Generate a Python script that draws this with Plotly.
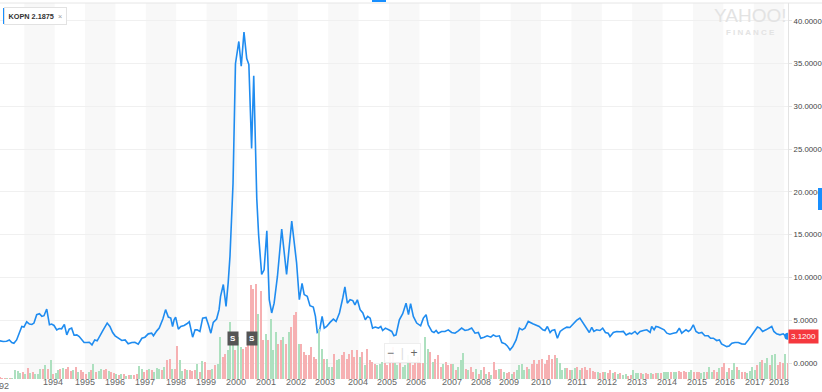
import plotly.graph_objects as go
import pandas as pd
from datetime import datetime

# ---------------- data ----------------
kopn_t = [
    1992.20, 1992.31, 1992.42, 1992.51, 1992.59, 1992.66, 1992.75, 1992.84, 1992.92, 1992.99,
    1993.08, 1993.17, 1993.25, 1993.32, 1993.41, 1993.50, 1993.58, 1993.65, 1993.74, 1993.83, 1993.90, 1993.98,
    1994.07, 1994.15, 1994.23, 1994.32, 1994.40, 1994.48, 1994.56, 1994.64, 1994.73, 1994.81, 1994.89, 1994.97,
    1995.06, 1995.14, 1995.23, 1995.32, 1995.40, 1995.49, 1995.60, 1995.73, 1995.82, 1995.91, 1995.99,
    1996.10, 1996.21, 1996.32, 1996.42, 1996.54, 1996.64, 1996.75, 1996.87, 1996.97,
    1997.08, 1997.19, 1997.25, 1997.36, 1997.44, 1997.56, 1997.65, 1997.74, 1997.82, 1997.88, 1997.93, 1997.98,
    1998.07, 1998.15, 1998.26, 1998.35, 1998.43, 1998.54, 1998.62, 1998.69, 1998.78, 1998.87, 1998.98,
    1999.06, 1999.14, 1999.22, 1999.33, 1999.41, 1999.46, 1999.55, 1999.64, 1999.71, 1999.77, 1999.87, 1999.95,
    2000.06, 2000.14, 2000.23, 2000.32, 2000.39, 2000.48, 2000.55, 2000.65, 2000.71, 2000.81, 2000.89, 2000.98,
    2001.06, 2001.14, 2001.22, 2001.33, 2001.47, 2001.63, 2001.80, 2001.96,
    2002.05, 2002.14, 2002.21, 2002.31, 2002.40, 2002.51, 2002.58, 2002.64, 2002.71, 2002.80, 2002.87, 2002.95,
    2003.06, 2003.17, 2003.26, 2003.37, 2003.48, 2003.55, 2003.63, 2003.72, 2003.81, 2003.88, 2003.96,
    2004.05, 2004.14, 2004.22, 2004.30, 2004.38, 2004.46, 2004.55, 2004.65, 2004.73, 2004.79, 2004.88, 2004.99,
    2005.09, 2005.16, 2005.23, 2005.34, 2005.45, 2005.56, 2005.64, 2005.71, 2005.80, 2005.91,
    2006.04, 2006.13, 2006.22, 2006.29, 2006.41, 2006.48, 2006.55, 2006.62, 2006.73, 2006.84, 2006.95,
    2007.06, 2007.17, 2007.28, 2007.39, 2007.50, 2007.61, 2007.72, 2007.83, 2007.94,
    2008.02, 2008.13, 2008.23, 2008.35, 2008.43, 2008.52, 2008.63, 2008.71, 2008.82, 2008.89, 2008.98,
    2009.07, 2009.18, 2009.29, 2009.38, 2009.47, 2009.58, 2009.73, 2009.84, 2009.94,
    2010.06, 2010.13, 2010.21, 2010.30, 2010.36, 2010.45, 2010.54, 2010.63, 2010.73, 2010.85, 2010.95,
    2011.06, 2011.17, 2011.28, 2011.39, 2011.50, 2011.59, 2011.67, 2011.74, 2011.83, 2011.94,
    2012.03, 2012.12, 2012.21, 2012.27, 2012.38, 2012.49, 2012.60, 2012.71, 2012.80, 2012.91, 2012.98,
    2013.09, 2013.17, 2013.26, 2013.37, 2013.48, 2013.59, 2013.64, 2013.72, 2013.78, 2013.86, 2013.97,
    2014.05, 2014.14, 2014.24, 2014.35, 2014.46, 2014.55, 2014.63, 2014.70, 2014.77, 2014.85, 2014.92,
    2015.01, 2015.10, 2015.19, 2015.29, 2015.39, 2015.50, 2015.58, 2015.67, 2015.78, 2015.87, 2015.94,
    2016.02, 2016.11, 2016.19, 2016.28, 2016.38, 2016.49, 2016.60, 2016.71, 2016.82, 2016.93,
    2017.04, 2017.12, 2017.20, 2017.29, 2017.40, 2017.51, 2017.59, 2017.66, 2017.75, 2017.86, 2017.97,
    2018.06, 2018.12,
]

kopn_close = [
    2.59, 2.51, 2.55, 2.70, 2.39, 2.31, 2.70, 3.49, 4.27, 4.20,
    4.82, 4.55, 4.51, 4.67, 5.65, 5.76, 5.45, 5.53, 6.31, 4.47, 4.55, 4.39,
    3.88, 4.04, 4.00, 4.51, 3.29, 3.96, 4.08, 3.25, 3.29, 3.10, 2.70, 2.39,
    2.39, 2.43, 2.12, 2.70, 2.59, 3.10, 3.88, 4.67, 4.27, 3.57, 3.18,
    2.90, 2.63, 2.70, 2.24, 2.39, 2.43, 2.20, 2.90, 3.02,
    3.41, 3.49, 3.18, 3.76, 4.08, 5.14, 6.24, 5.37, 5.25, 4.27, 5.06, 5.37,
    3.96, 4.27, 4.39, 4.59, 4.82, 3.02, 3.88, 3.88, 3.69, 5.25, 5.33,
    4.47, 3.49, 4.75, 5.14, 6.24, 7.80, 9.18, 6.63, 9.37, 12.5, 21.0, 35.0,
    37.6, 34.7, 38.7, 35.6, 34.9, 25.1, 33.6, 19.2, 15.0, 10.35, 10.9, 15.45,
    7.4, 5.85, 7.0, 10.15, 15.65, 10.35, 16.6, 11.7,
    7.4, 9.3, 8.0, 7.8, 6.7, 6.55, 5.45, 3.57, 3.69, 5.45, 4.08, 4.27,
    4.75, 5.14, 4.86, 5.85, 7.6, 8.9, 7.0, 7.4, 7.3, 6.8, 7.4,
    6.24, 5.85, 5.06, 5.45, 5.25, 4.08, 4.20, 4.08, 4.27, 3.80, 4.08, 3.88,
    3.69, 3.18, 3.29, 5.06, 5.76, 7.0, 5.65, 6.94, 5.45, 4.67,
    4.35, 5.25, 5.65, 4.47, 3.69, 3.57, 3.80, 3.49, 3.69, 3.69, 3.88,
    3.57, 3.49, 3.76, 4.08, 3.80, 3.88, 4.08, 3.49, 3.57,
    2.90, 3.02, 3.18, 3.02, 3.29, 3.10, 3.18, 2.39, 2.24, 2.00, 1.53,
    1.92, 2.70, 4.08, 3.88, 4.08, 4.86, 4.59, 4.39, 4.27,
    3.88, 3.80, 4.27, 3.57, 3.80, 3.88, 2.90, 3.69, 3.96, 4.20, 4.16,
    4.59, 4.98, 5.25, 4.67, 4.08, 3.57, 4.16, 3.69, 3.88, 3.80,
    4.08, 3.57, 3.49, 3.10, 3.57, 3.69, 3.65, 3.69, 3.29, 3.49, 3.41,
    3.69, 3.37, 3.69, 3.80, 3.88, 3.57, 4.27, 3.88, 4.27, 4.20, 3.96,
    3.88, 3.49, 3.37, 3.49, 3.57, 4.08, 3.49, 3.69, 3.88, 3.69, 3.88,
    4.47, 3.69, 3.49, 3.57, 3.18, 3.18, 2.90, 2.90, 2.63, 2.70, 2.24,
    2.12, 1.92, 2.00, 2.31, 2.39, 2.39, 2.24, 2.20, 2.70, 3.29,
    3.88, 4.20, 4.08, 3.69, 3.88, 4.08, 4.27, 3.69, 3.41, 3.29, 3.41,
    3.10, 3.12,
]

# monthly volume (millions of shares), starting March 1992
vol_start = "1992-03-01"
volume = [
    2, 1, 1, 1, 1, 1, 8.7, 7.7, 6, 7,
    4.7, 11, 6, 7, 5.3, 5.3, 9.7, 9.7, 14.3, 9.7,
    18.7, 5.3, 6, 8.7, 9.7, 11, 9.7, 12, 8, 9.3,
    12, 7, 8.7, 7, 4.7, 7, 8.7, 15.3, 7, 8,
    9.7, 8.7, 9.7, 7.7, 7, 6, 5.3, 3.7, 5.3, 4.7,
    3.3, 3.7, 3.7, 3.7, 4.7, 12.7, 10.3, 7, 8.7, 10.3,
    8.7, 7, 11, 10.3, 8.7, 12, 18.7, 20.3, 10.3, 9.7,
    33, 18.7, 8, 10.3, 8.7, 9.3, 8, 8.7, 14.7, 7,
    17.7, 17, 8.7, 9.3, 10.3, 13.7, 15.3, 42, 22, 25.3,
    28.7, 57, 45, 28.7, 42, 32, 30.3, 32, 45, 94,
    90, 95, 65, 88, 38.7, 45, 38.7, 60, 28.7, 47,
    35, 38.7, 42, 35, 47, 52, 64, 67, 35, 35,
    27, 23.7, 23.7, 32, 22, 20.3, 50, 30, 20, 20,
    12, 12, 25, 18.7, 20.3, 23.7, 27, 20.3, 25.3, 28.7,
    22, 28.7, 22, 27, 13.7, 30.3, 18.7, 17, 15.3, 13.7,
    15.3, 17, 18.7, 13.7, 23.7, 32, 17, 13.7, 17, 12,
    13.7, 23.7, 18.7, 13.7, 17, 22, 17, 16, 42, 30.3,
    27, 17, 20.3, 23.7, 12, 15.3, 17, 13.7, 15.3, 15.3,
    8.7, 12, 18.7, 26, 10.3, 8.7, 12, 7, 10.3, 5.3,
    8.7, 12, 5.3, 7, 3.7, 17, 8.7, 10.3, 10.3, 7,
    6, 7, 5.3, 7, 8.7, 13.7, 15.3, 8.7, 12, 10.3,
    15.3, 19.3, 15.3, 18.7, 20.3, 15.3, 18.7, 23.7, 20.3, 24,
    20.7, 15.7, 9, 10.7, 10.7, 9, 9, 10.7, 12.3, 9,
    10.7, 12.3, 9, 10.7, 8, 7.3, 6.7, 5.7, 7.3, 7.3,
    5.7, 9, 5.7, 7.3, 4.7, 5.7, 4, 4.7, 3.3, 4,
    9, 5.7, 5.7, 5.7, 4.7, 5.7, 4.7, 5.7, 4.7, 5.7,
    5.7, 5.7, 7.3, 7.3, 7.3, 6.7, 6.7, 7.3, 8, 7.3,
    8, 6.7, 7.3, 9, 7.3, 6.7, 6.7, 5.7, 7.3, 7.3,
    12.3, 6.7, 9, 6.7, 10.7, 12.3, 15.7, 7.3, 10.7, 9,
    15.7, 12.3, 9, 7.3, 6.7, 5.7, 8, 12.3, 9, 14,
    17.3, 19, 15.7, 20.7, 14, 24, 24.7, 14, 17.3, 15.7, 24.7, 15.7,
]
volume_dir = (
    "r r r g r g g g g r "
    "g r g r g g g r g r "
    "g r g g r g r r r g "
    "r g r r r g r g r g "
    "g r r g r r g r g r "
    "g r g r r g g r r g "
    "r g g g r g r r g r "
    "r g g r g r r r g r "
    "g r r r g r g g r r "
    "g g g r g g r r r r "
    "r r g r r g r g g g "
    "r r g r g r r r g r "
    "r r r r r r g g r g "
    "g g r g g r r r r r "
    "r r g r g r r r r g "
    "g g r r r r g g r g "
    "g g r r r r r r g g "
    "r g r r r g r r r g "
    "r g g g r g r r g r "
    "g r g r g r r g r g "
    "r r g r g g g g r g "
    "r r r r r r r r r r "
    "g g g g r r g g r g "
    "r r r r r r g r r g "
    "r r g r g r g g r r "
    "g g g r g r r g r r "
    "g r g g g r g g r r "
    "r r g g r r r g g r "
    "g g r r g r r g r g "
    "g r g r r g g g g r "
    "g r g g r g g r r r g r"
).split()

# x-axis tick positions (as shown in the reference) and labels
tick_t = [1993.947, 1995.0, 1995.987, 1996.974, 1997.993, 1998.98, 1999.967, 2000.954,
          2001.941, 2002.895, 2003.98, 2004.934, 2005.888, 2007.072, 2008.026, 2008.947,
          2010.0, 2011.184, 2012.171, 2013.158, 2014.145, 2015.132, 2016.053, 2017.04, 2017.829]
tick_labels = [str(y) for y in range(1994, 2019)]

split_t = [1999.87, 2000.49]
y_ticks = [0, 5, 10, 15, 20, 25, 30, 35, 40]
legend_text = "KOPN 2.1875"
last_label = "3.1200"

# ---------------- helpers ----------------
def dec2dt(t):
    y = int(t)
    a = datetime(y, 1, 1)
    b = datetime(y + 1, 1, 1)
    return a + (b - a) * (t - y)

W, H = 822, 392
ML, MR, MT, MB = 0, 34, 3, 13
PW, PH = W - ML - MR, H - MT - MB
def px(x):  # page pixel -> paper x
    return (x - ML) / PW
def py(y):  # page pixel -> paper y
    return (H - MB - y) / PH

FONT = "Helvetica Neue, Liberation Sans, Arial, sans-serif"
BLUE = "#1f8cf0"

x_price = [dec2dt(t) for t in kopn_t]
vol_x = pd.date_range(vol_start, periods=len(volume), freq="MS") + pd.Timedelta(days=14)
vol_colors = ["#ade0bf" if d == "g" else "#f6b0b2" for d in volume_dir]

fig = go.Figure()

fig.add_trace(go.Bar(
    x=vol_x, y=volume, yaxis="y2", marker=dict(color=vol_colors, line_width=0),
    width=17 * 24 * 3600 * 1000, hoverinfo="skip", showlegend=False,
))
fig.add_trace(go.Scatter(
    x=x_price, y=kopn_close, mode="lines", line=dict(color=BLUE, width=1.6),
    hoverinfo="skip", showlegend=False,
))
fig.add_trace(go.Scatter(
    x=[x_price[-1]], y=[kopn_close[-1]], mode="markers",
    marker=dict(color=BLUE, size=7), hoverinfo="skip", showlegend=False, cliponaxis=False,
))

shapes = []
# alternating year bands (odd years shaded)
for yr in range(1993, 2019, 2):
    shapes.append(dict(type="rect", xref="x", yref="paper", x0=datetime(yr, 1, 1), x1=datetime(yr + 1, 1, 1),
                       y0=0, y1=1, fillcolor="#f8f8f8", line_width=0, layer="below"))
# top border
shapes.append(dict(type="line", xref="paper", yref="paper", x0=0, x1=W / PW, y0=1, y1=1,
                   line=dict(color="#e6e6e6", width=1)))
# small blue tab on top
shapes.append(dict(type="rect", xref="paper", yref="paper", x0=px(372), x1=px(386), y0=py(2), y1=py(0),
                   fillcolor="#188fff", line_width=0))
# blue bar on right edge
shapes.append(dict(type="rect", xref="paper", yref="paper", x0=px(818), x1=px(822), y0=py(210), y1=py(188),
                   fillcolor="#188fff", line_width=0))
# legend box accent
shapes.append(dict(type="rect", xref="paper", yref="paper", x0=px(3), x1=px(5), y0=py(24), y1=py(8),
                   fillcolor="#188fff", line_width=0))

annotations = [
    dict(xref="paper", yref="paper", x=px(4), y=py(16), xanchor="left", yanchor="middle",
         text=f"<b>{legend_text}</b>  <span style='color:#9a9a9a'>×</span>", showarrow=False,
         font=dict(family=FONT, size=7.3, color="#333"), bgcolor="white",
         bordercolor="#e2e2e2", borderwidth=1, borderpad=3.5),
    dict(xref="paper", yref="paper", x=px(750), y=py(15.5), xanchor="center", yanchor="middle",
         text="YAHOO!", showarrow=False, font=dict(family=FONT, size=19, color="#e3e3e3")),
    dict(xref="paper", yref="paper", x=px(750), y=py(32.5), xanchor="center", yanchor="middle",
         text="<b>F I N A N C E</b>", showarrow=False, font=dict(family=FONT, size=8, color="#e3e3e3")),
    dict(xref="paper", yref="y", x=1.0, y=kopn_close[-1], xanchor="left", yanchor="middle",
         text=last_label, showarrow=False, font=dict(family=FONT, size=8, color="white"),
         bgcolor="#f5383e", borderpad=2),
    dict(xref="paper", yref="paper", x=px(-1), y=py(386), xanchor="center", yanchor="middle",
         text="1992", showarrow=False, font=dict(family=FONT, size=9, color="#666")),
    dict(xref="paper", yref="paper", x=px(402), y=py(353), xanchor="center", yanchor="middle",
         text="<span style='color:#666'>−</span>  <span style='color:#ddd'>|</span>  <span style='color:#666'>+</span>",
         showarrow=False, font=dict(family=FONT, size=12), bgcolor="rgba(255,255,255,0.92)",
         bordercolor="#eeeeee", borderwidth=1, borderpad=2),
]
for t in split_t:
    annotations.append(dict(xref="x", yref="paper", x=dec2dt(t), y=py(338), xanchor="center", yanchor="middle",
                            text="<b>S</b>", showarrow=False, font=dict(family=FONT, size=8, color="white"),
                            bgcolor="#555555", borderpad=2))

fig.update_layout(
    width=W, height=H,
    margin=dict(l=ML, r=MR, t=MT, b=MB, autoexpand=False),
    paper_bgcolor="white", plot_bgcolor="white",
    font=dict(family=FONT),
    bargap=0,
    xaxis=dict(
        type="date", range=[dec2dt(1992.204), dec2dt(2018.125)],
        showgrid=False, zeroline=False, showline=False, ticks="",
        tickvals=[dec2dt(t) for t in tick_t], ticktext=tick_labels, tickangle=0,
        tickfont=dict(family=FONT, size=9, color="#666"), ticklabelstandoff=-4,
    ),
    yaxis=dict(
        side="right", range=[-1.87, 42.1], tickvals=y_ticks,
        ticktext=[f"{v:.4f}" for v in y_ticks],
        showgrid=True, gridcolor="#f0f0f0", gridwidth=1, zeroline=False,
        showline=True, linecolor="#e3e3e3", linewidth=1,
        ticks="outside", ticklen=3, tickcolor="#e3e3e3",
        tickfont=dict(family=FONT, size=7.8, color="#444"),
    ),
    yaxis2=dict(overlaying="y", range=[0, PH], visible=False, fixedrange=True),
    shapes=shapes, annotations=annotations,
    showlegend=False,
)

fig.write_html("out.html", config={"displayModeBar": False},
               post_script="document.body.style.margin='0';document.body.style.overflow='hidden';")
